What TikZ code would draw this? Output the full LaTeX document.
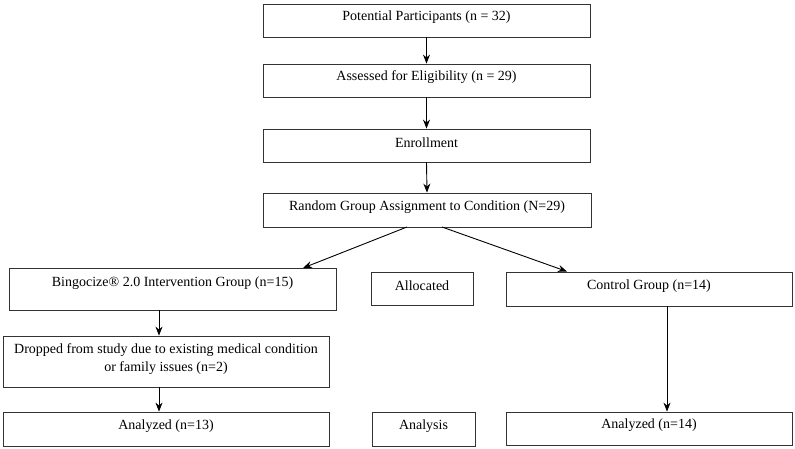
\documentclass[tikz,border=0pt]{standalone}
\usepackage{fontspec}
\setmainfont{Liberation Serif}
\usetikzlibrary{arrows.meta}
\newcommand{\uptxt}[1]{\raisebox{3pt}[\height][\depth]{#1}}
\begin{document}
\begin{tikzpicture}[x=1pt,y=-1pt,
  box/.style={draw=black!80, line width=0.8pt, rectangle, inner sep=0pt, align=center, font=\fontsize{14}{18}\selectfont},
  conn/.style={-{Stealth[length=9pt,width=7pt]}, line width=0.9pt}]
\useasboundingbox (0,0) rectangle (795,449);
\node[box, minimum width=327pt, minimum height=33pt] (b1) at (426.5,20.5) {\uptxt{Potential Participants (n = 32)}};
\node[box, minimum width=327pt, minimum height=33pt] (b2) at (426.5,80.5) {\uptxt{Assessed for Eligibility (n = 29)}};
\node[box, minimum width=327pt, minimum height=33pt] (b3) at (426.5,145.5) {\uptxt{Enrollment}};
\node[box, minimum width=328pt, minimum height=34pt] (b4) at (427,210) {\uptxt{Random Group Assignment to Condition (N=29)}};
\node[box, minimum width=327pt, minimum height=42pt] (b5) at (172.5,289) {\raisebox{6pt}[\height][\depth]{Bingocize® 2.0 Intervention Group (n=15)}};
\node[box, minimum width=102pt, minimum height=33pt] (al) at (422,288.5) {\uptxt{Allocated}};
\node[box, minimum width=286pt, minimum height=34pt] (ct) at (649,289) {\uptxt{Control Group (n=14)}};
\node[box, minimum width=326pt, minimum height=51pt] (dr) at (166,361.5) {\raisebox{3pt}[\height][\depth]{\begin{tabular}{@{}c@{}}Dropped from study due to existing medical condition\\ or family issues (n=2)\end{tabular}}};
\node[box, minimum width=326pt, minimum height=34pt] (a1) at (166,429) {\uptxt{Analyzed (n=13)}};
\node[box, minimum width=103pt, minimum height=34pt] (an) at (423.5,429) {\uptxt{Analysis}};
\node[box, minimum width=286pt, minimum height=33pt] (a2) at (649,428.5) {\uptxt{Analyzed (n=14)}};
\draw[conn] (b1.south) -- (b2.north);
\draw[conn] (b2.south) -- (b3.north);
\draw[conn] (b3.south) -- (b4.north);
\coordinate (l1) at (407,227);
\coordinate (l2) at (303,268);
\coordinate (r1) at (442,227);
\coordinate (r2) at (567,271.5);
\draw[conn] (l1) -- (l2);
\draw[conn] (r1) -- (r2);
\draw[conn] (b5.south -| 159,0) -- (dr.north -| 159,0);
\draw[conn] (dr.south -| 159,0) -- (a1.north -| 159,0);
\draw[conn] (ct.south -| 667,0) -- (a2.north -| 667,0);
\end{tikzpicture}
\end{document}
